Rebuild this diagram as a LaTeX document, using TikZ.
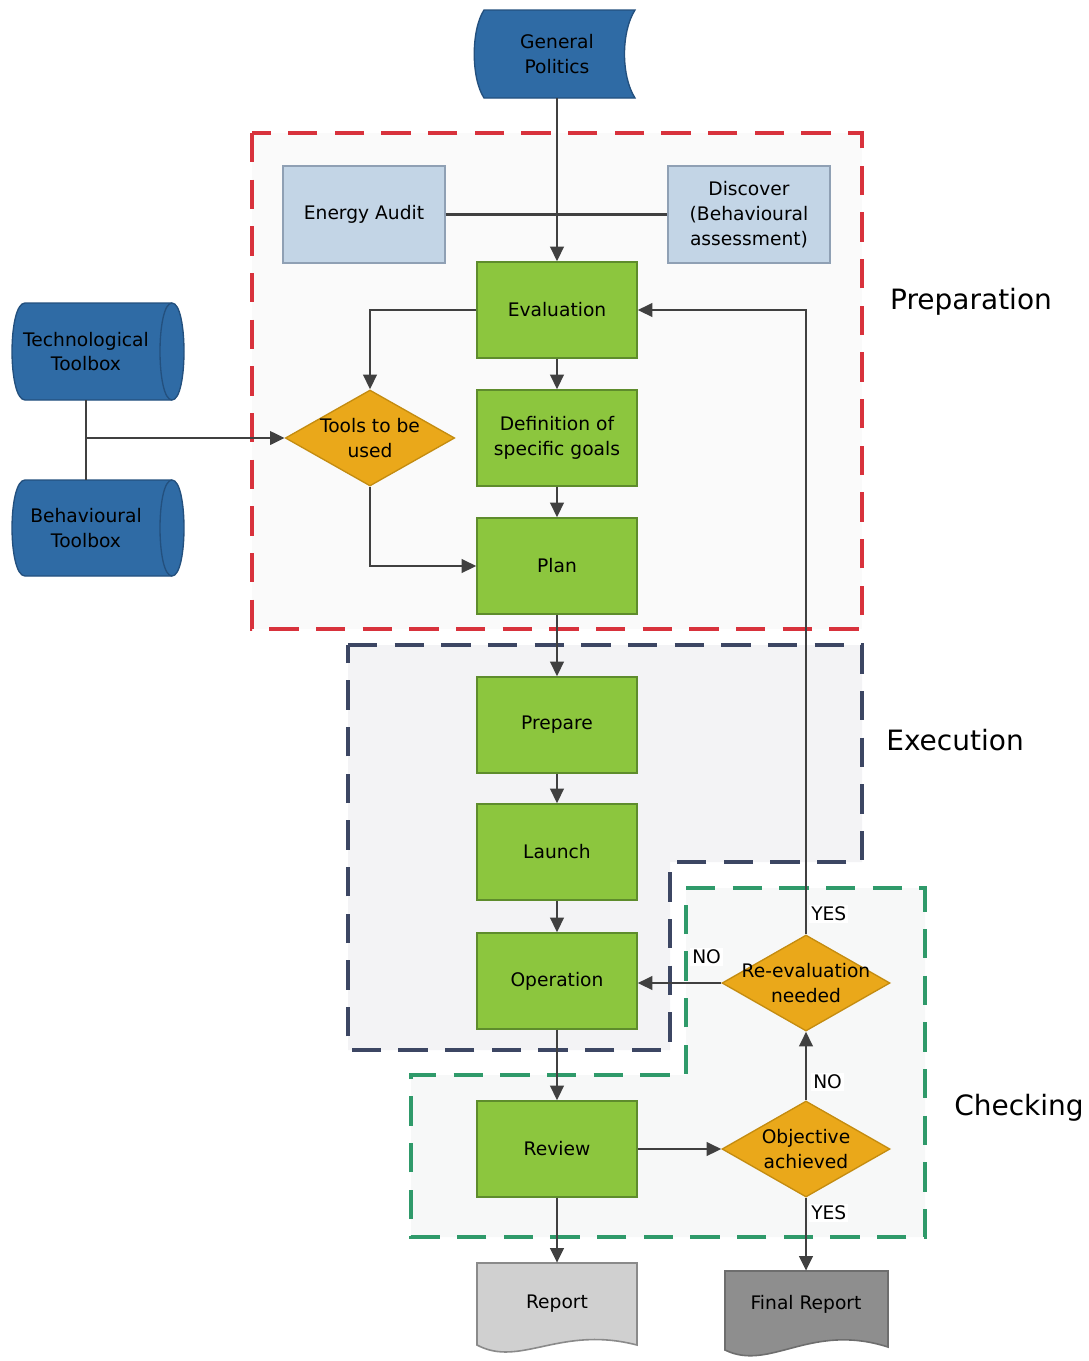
\documentclass[tikz,border=0pt]{standalone}
\usepackage{fontspec}
\setmainfont{DejaVu Sans}
\usetikzlibrary{shapes.geometric,arrows.meta}
\pgfdeclarelayer{background}
\pgfsetlayers{background,main}

\definecolor{StageFill}{HTML}{8CC63E}
\definecolor{StageLine}{HTML}{5E8C2C}
\definecolor{SrcFill}{HTML}{C3D5E6}
\definecolor{SrcLine}{HTML}{8FA0B4}
\definecolor{DecFill}{HTML}{EAA81A}
\definecolor{DecLine}{HTML}{C48C10}
\definecolor{ToolFill}{HTML}{2F6BA5}
\definecolor{ToolLine}{HTML}{23507E}
\definecolor{RepFill}{HTML}{D0D0D0}
\definecolor{RepLine}{HTML}{8A8A8A}
\definecolor{FinFill}{HTML}{8E8E8E}
\definecolor{FinLine}{HTML}{6E6E6E}
\definecolor{FlowLine}{HTML}{404040}
\definecolor{PrepLine}{HTML}{D8323C}
\definecolor{ExecLine}{HTML}{3C4663}
\definecolor{CheckLine}{HTML}{2F9A6A}
\definecolor{PrepFill}{HTML}{FAFAFA}
\definecolor{ExecFill}{HTML}{F3F3F5}
\definecolor{CheckFill}{HTML}{F7F8F8}

% two-line text inside a diamond that must not enlarge the shape
\newcommand\dtext[1]{\smash{\raisebox{-5pt}{\makebox[0pt]{\begin{tabular}{@{}c@{}}#1\end{tabular}}}}}

\tikzset{
  base/.style={font=\fontsize{14pt}{18.5pt}\selectfont, align=center, inner sep=0pt, text=black},
  stage/.style={base, rectangle, draw=StageLine, fill=StageFill, line width=1pt,
                minimum width=120pt, minimum height=72pt},
  source/.style={base, rectangle, draw=SrcLine, fill=SrcFill, line width=1pt,
                 minimum width=121.5pt, minimum height=72.75pt},
  decision/.style={base, diamond, draw=DecLine, fill=DecFill, line width=1pt,
                   minimum width=127pt, minimum height=72pt},
  plain/.style={base, rectangle},
  flow/.style={draw=FlowLine, line width=2.2pt, -{Triangle[length=11pt,width=10pt]}},
  link/.style={draw=FlowLine, line width=2.2pt},
  answer/.style={base, fill=white, inner sep=1.5pt, anchor=west},
  phase/.style={font=\fontsize{21pt}{25pt}\selectfont, text=black},
  region/.style={line width=3pt, dash pattern=on 22pt off 13pt},
}

\begin{document}
\begin{tikzpicture}[x=0.75pt,y=-0.75pt]
\useasboundingbox (0,0) rectangle (1089,1361);

% ---------- nodes ----------
\node[plain, minimum width=113pt, minimum height=66pt] (gp) at (557,54) {General\\Politics};
\node[source] (ea) at (364,214.5) {Energy Audit};
\node[source] (disc) at (749,214.5) {Discover\\(Behavioural\\assessment)};
\node[stage] (eval) at (557,310) {Evaluation};
\node[stage] (goals) at (557,438) {Definition of\\specific goals};
\node[stage] (plan) at (557,566) {Plan};
\node[stage] (prep) at (557,725) {Prepare};
\node[stage] (launch) at (557,852) {Launch};
\node[stage] (op) at (557,981) {Operation};
\node[stage] (review) at (557,1149) {Review};

\node[decision] (tools) at (370,438) {\dtext{Tools to be\\used}};
\node[decision, minimum width=126pt] (reeval) at (806,983) {\dtext{Re-evaluation\\needed}};
\node[decision, minimum width=126pt] (obj) at (806,1149) {\dtext{Objective\\achieved}};

\node[plain, minimum width=117pt, minimum height=72.75pt] (tech) at (86,351.5) {Technological\\Toolbox};
\node[plain, minimum width=117pt, minimum height=72pt] (beh) at (86,528) {Behavioural\\Toolbox};
\node[plain, minimum width=120pt, minimum height=61.5pt] (report) at (557,1304) {Report};
\node[plain, minimum width=122pt, minimum height=49.5pt] (final) at (806,1304) {Final Report};

% ---------- phase regions and outlined shapes ----------
\begin{pgfonlayer}{background}
  \path[fill=PrepFill] (252,133) rectangle (862,629);
  \path[fill=ExecFill] (348,645) -- (862,645) -- (862,862) -- (670,862) -- (670,1050) -- (348,1050) -- cycle;
  \path[fill=CheckFill] (686,888) -- (925,888) -- (925,1237) -- (411,1237) -- (411,1075) -- (686,1075) -- cycle;
  \draw[region, PrepLine] (252,133) rectangle (862,629);
  \draw[region, ExecLine] (348,645) -- (862,645) -- (862,862) -- (670,862) -- (670,1050) -- (348,1050) -- cycle;
  \draw[region, CheckLine] (686,888) -- (925,888) -- (925,1237) -- (411,1237) -- (411,1075) -- (686,1075) -- cycle;

  % General Politics (stored data)
  \path[fill=ToolFill, draw=ToolLine, line width=1pt]
    (484,10) -- (635,10) .. controls (621,32) and (621,76) .. (635,98)
    -- (484,98) .. controls (471,78) and (471,30) .. (484,10) -- cycle;

  % toolboxes (horizontal cylinders)
  \path[fill=ToolFill, draw=ToolLine, line width=1pt]
    (25,303) -- (172,303) .. controls (188,303) and (188,400) .. (172,400)
    -- (25,400) .. controls (7.7,400) and (7.7,303) .. (25,303) -- cycle;
  \draw[ToolLine, line width=1pt] (172,303) .. controls (156,303) and (156,400) .. (172,400);
  \path[fill=ToolFill, draw=ToolLine, line width=1pt]
    (25,480) -- (172,480) .. controls (188,480) and (188,576) .. (172,576)
    -- (25,576) .. controls (7.7,576) and (7.7,480) .. (25,480) -- cycle;
  \draw[ToolLine, line width=1pt] (172,480) .. controls (156,480) and (156,576) .. (172,576);

  % reports (documents)
  \path[fill=RepFill, draw=RepLine, line width=1.2pt]
    (477,1263) -- (637,1263) -- (637,1345) .. controls (560,1325) and (520,1368) .. (477,1345) -- cycle;
  \path[fill=FinFill, draw=FinLine, line width=1.2pt]
    (725,1271) -- (888,1271) -- (888,1347) .. controls (810,1322) and (770,1372) .. (725,1350) -- cycle;
\end{pgfonlayer}

% ---------- connectors ----------
\draw[flow] (gp.south) -- (eval.north);
\draw[link] (ea.east) -- (disc.west);
\draw[flow] (eval.south) -- (goals.north);
\draw[flow] (goals.south) -- (plan.north);
\draw[flow] (eval.west) -| (tools.north);
\draw[flow] (tools.south) |- (plan.west);
\draw[link] (tech.south) -- (beh.north);
\draw[flow] (tech.south |- tools.west) -- (tools.west);
\draw[flow] (plan.south) -- (prep.north);
\draw[flow] (prep.south) -- (launch.north);
\draw[flow] (launch.south) -- (op.north);
\draw[flow] (op.south) -- (review.north);
\draw[flow] (review.south) -- (report.north);
\draw[flow] (review.east) -- (obj.west);
\draw[flow] (obj.north) -- (reeval.south);
\draw[flow] (obj.south) -- (final.north);
\draw[flow] (reeval.west) -- (reeval.west -| op.east);
\draw[flow] (reeval.north) |- (eval.east);

% ---------- branch labels ----------
\node[answer] (yesup) at (809,914) {YES};
\node[answer] (nooper) at (690,957) {NO};
\node[answer] (noobj) at (811,1082) {NO};
\node[answer] (yesfin) at (809,1213) {YES};

% ---------- phase names ----------
\node[phase] (lprep) at (971,302) {Preparation};
\node[phase] (lexec) at (955,740) {Execution};
\node[phase] (lcheck) at (1019,1108) {Checking};
\end{tikzpicture}
\end{document}
